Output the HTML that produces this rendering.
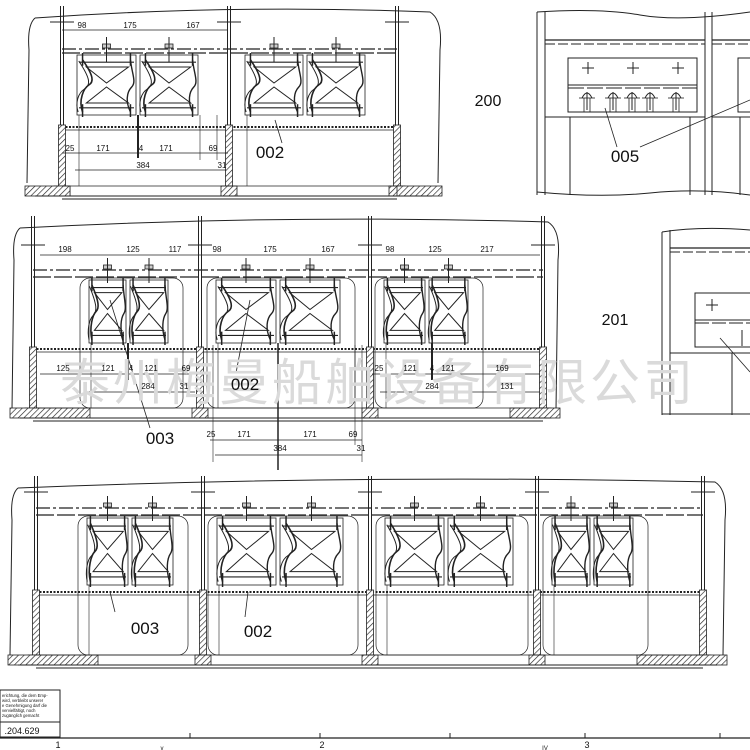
<!DOCTYPE html>
<html><head><meta charset="utf-8"><style>
html,body{margin:0;padding:0;background:#fff;width:750px;height:750px;overflow:hidden}
svg{display:block}
text{font-family:"Liberation Sans",sans-serif;fill:#111}
</style></head><body>
<svg id="s" width="750" height="750" viewBox="0 0 750 750" xmlns="http://www.w3.org/2000/svg">
<defs>
<pattern id="h" width="4" height="4" patternUnits="userSpaceOnUse" patternTransform="rotate(45)">
<rect width="4" height="4" fill="#fff"/><line x1="0" y1="0" x2="0" y2="4" stroke="#222" stroke-width="1.3"/>
</pattern>
</defs>
<g id="g" fill="none" stroke="#222" stroke-width="1"></g>
<text x="60" y="400" font-size="50" style="fill:#dadada;font-family:'Liberation Sans','Noto Sans CJK SC',sans-serif;letter-spacing:3px">泰州梅曼船舶设备有限公司</text>
</svg>
<script>
var g=document.getElementById('g'),S=document.getElementById('s');
function el(t,a,p){var e=document.createElementNS('http://www.w3.org/2000/svg',t);for(var k in a)e.setAttribute(k,a[k]);(p||g).appendChild(e);return e;}
function L(x1,y1,x2,y2,w,d){var a={x1:x1,y1:y1,x2:x2,y2:y2};if(w)a['stroke-width']=w;if(d)a['stroke-dasharray']=d;el('line',a);}
function R(x,y,w,h,f,sw){el('rect',{x:x,y:y,width:w,height:h,fill:f||'none','stroke-width':sw||1});}
function P(d,sw){el('path',{d:d,'stroke-width':sw||1});}
function T(x,y,s,fs){var t=el('text',{x:x,y:y,'font-size':fs||8,'text-anchor':'middle'},S);t.textContent=s;}
function unit(x1,x2,y1,y2){
 var w=x2-x1,h=y2-y1,cx=(x1+x2)/2,cy=(y1+y2)/2;
 R(x1+2,y1,w-4,h,'none',0.8);
 L(x1+4,y1+h*0.12,x2-4,y1+h*0.12,1.2);L(x1+4,y1+h*0.88,x2-4,y1+h*0.88,1.2);
 P('M'+(x1+w*.18)+','+(y1+h*.2)+' L'+(x2-w*.15)+','+(y1+h*.2)+' L'+cx+','+(cy-2)+' Z',1);
 P('M'+(x1+w*.18)+','+(y2-h*.2)+' L'+(x2-w*.15)+','+(y2-h*.2)+' L'+cx+','+(cy+2)+' Z',1);
 P('M'+(x1+w*.12)+','+(y1+h*.08)+' C'+(x1+w*.3)+','+(y1+h*.35)+' '+(x1+w*.3)+','+(y1+h*.45)+' '+(x1+w*.22)+','+cy+' S'+(x1+w*.05)+','+(y1+h*.75)+' '+(x1+w*.12)+','+(y2-h*.05),1.6);
 P('M'+(x1+w*.06)+','+(y1+h*.1)+' C'+(x1+w*.25)+','+(y1+h*.4)+' '+(x1+w*.25)+','+(y1+h*.5)+' '+(x1+w*.15)+','+(cy+4)+' S'+(x1)+','+(y1+h*.8)+' '+(x1+w*.05)+','+(y2-h*.05),1);
 P('M'+(x2-w*.12)+','+(y1+h*.08)+' C'+(x2-w*.1)+','+(y1+h*.3)+' '+(x2-w*.02)+','+(y1+h*.45)+' '+(x2-w*.1)+','+(cy+2)+' S'+(x2-w*.2)+','+(y1+h*.78)+' '+(x2-w*.12)+','+(y2-h*.05),1.4);
 L(x1+w*.12,y1-2,x1+w*.12,y1+h*.18,1.5);L(x2-w*.12,y1-2,x2-w*.12,y1+h*.18,1.5);
 L(x1+w*.12,y2-h*.18,x1+w*.12,y2+2,1.5);L(x2-w*.12,y2-h*.18,x2-w*.12,y2+2,1.5);
}
function bolt(x,y){R(x-4,y-3,8,4,'#ccc',0.8);L(x,y-10,x,y+15,1);}
function panel(o){
 var x0=o.x0,x1=o.x1,y0=o.y0,y1=o.y1;
 P('M'+(x0+8)+','+(y0+8)+' Q'+((x0+x1)/2)+','+(y0-6)+' '+(x1-10)+','+(y0+2)+' Q'+(x1+3)+','+(y0+10)+' '+(x1)+','+(y0+40)+' L'+(x1-2)+','+(y1-5),1);
 P('M'+(x0+8)+','+(y0+8)+' Q'+(x0)+','+(y0+15)+' '+(x0+2)+','+(y0+40)+' L'+(x0)+','+(y1-5),1);
 var pl=o.posts[0],pr=o.posts[o.posts.length-1];
 L(pl,o.b1,pr,o.b1,1.2,'14 3 3 3');L(pl,o.b2,pr,o.b2,1.2,'18 3');
 L(pl,o.dash,pr,o.dash,2,'2 1.5');L(pl,o.dash+3,pr,o.dash+3,0.8);
 o.posts.forEach(function(p){L(p-1.5,y0-4,p-1.5,o.base,1);L(p+1.5,y0-4,p+1.5,o.base,1);
  R(p-3.5,o.dash-2,7,o.base-o.dash+2,'url(#h)',0.8);R(p-8,o.base,16,10,'url(#h)',0.8);
  L(p-12,o.ax,p+12,o.ax,1);});
 R(x0-2,o.base,o.hl,10,'url(#h)',0.8);R(x1-o.hr+2,o.base,o.hr,10,'url(#h)',0.8);
 L(x0+8,o.base+10,x1-8,o.base+10,1);L(pl,o.base+13,pr,o.base+13,1);
 L(pl,o.base,pr,o.base,0.8);
 o.groups.forEach(function(gr){
  if(o.back)el('rect',{x:gr[0][0]-7,y:o.b2+1,width:gr[gr.length-1][1]-gr[0][0]+20,height:o.base-o.b2-1,rx:10,'stroke-width':0.7});
  gr.forEach(function(u){unit(u[0],u[1],o.uy1,o.uy2);bolt((u[0]+u[1])/2,o.b1-2);});
  L(gr[0][0]+4,o.uy2,gr[0][0]+4,o.base,0.6);
 });
}
panel({x0:27,x1:440,y0:10,y1:188,posts:[62,229,397],b1:49,b2:53,dash:127,base:186,ax:22,hl:45,hr:45,uy1:55,uy2:115,
 groups:[[[75,138],[138,200]],[[243,305],[305,367]]]});
L(62,30,228,30,0.8);L(62,153,228,153,0.8);L(75,170,226,170,0.8);L(138,115,138,158,2);
T(82,28,'98');T(130,28,'175');T(193,28,'167');
T(70,151,'25');T(103,151,'171');T(141,151,'4');T(166,151,'171');T(213,151,'69');T(143,168,'384');T(222,168,'31');
L(217,115,217,160,0.6);L(200,115,200,160,0.6);
T(270,158,'002',17);L(275,120,282,143,0.8);
panel({x0:12,x1:558,y0:220,y1:415,posts:[33,200,370,543],b1:270,b2:277,dash:349,base:408,ax:245,hl:80,hr:50,uy1:280,uy2:343,back:true,
 groups:[[[87,128],[128,170]],[[214,278],[278,342]],[[382,427],[427,470]]]});
L(40,255,540,255,0.8);L(40,374,195,374,0.8);L(85,392,195,392,0.8);L(372,374,540,374,0.8);L(380,392,540,392,0.8);
L(128,343,128,380,2);L(278,343,278,470,1.5);L(432,343,432,380,2);
L(210,440,362,440,0.8);L(215,455,362,455,0.8);L(213,345,213,462,0.6);L(355,345,355,445,0.6);L(362,345,362,462,0.6);
T(65,252,'198');T(133,252,'125');T(175,252,'117');T(217,252,'98');T(270,252,'175');T(328,252,'167');T(390,252,'98');T(435,252,'125');T(487,252,'217');
T(63,371,'125');T(108,371,'121');T(131,371,'4');T(151,371,'121');T(186,371,'69');T(148,389,'284');T(184,389,'31');
T(379,371,'25');T(410,371,'121');T(432,371,'4');T(448,371,'121');T(502,371,'169');T(432,389,'284');T(507,389,'131');
T(211,437,'25');T(244,437,'171');T(310,437,'171');T(353,437,'69');T(280,451,'384');T(361,451,'31');
T(160,444,'003',17);L(110,300,150,428,0.8);T(245,390,'002',17);L(250,300,236,373,0.8);
panel({x0:10,x1:725,y0:480,y1:660,posts:[36,203,370,537,703],b1:508,b2:515,dash:592,base:655,ax:492,hl:90,hr:90,uy1:518,uy2:585,back:true,
 groups:[[[85,130],[130,175]],[[215,278],[278,345]],[[383,446],[446,515]],[[550,592],[592,635]]]});
T(145,634,'003',17);L(110,592,115,612,0.8);T(258,637,'002',17);L(248,592,245,617,0.8);
P('M537,12 Q600,8 640,15 T750,12',1);L(537,12,537,195,1);L(545,12,545,195,1);L(705,12,705,195,1);L(712,12,712,195,1);
P('M537,192 Q600,198 650,193 T750,195',1);
L(545,40,705,40,1.2);L(545,44,705,44,1,'10 3');L(712,40,750,40,1.2);L(712,44,750,44,1,'10 3');
R(568,58,129,54);L(568,85,697,85,1);L(568,88,697,88,1,'16 3');L(545,117,705,117,1);L(712,117,750,117,1);
L(570,117,570,195,1);L(690,117,690,195,1);L(740,117,740,195,1);
R(738,58,20,54);
[588,633,678].forEach(function(x){L(x-6,68,x+6,68,1);L(x,62,x,74,1);});
[587,613,632,650,676].forEach(function(x){P('M'+(x-5)+','+98+' Q'+x+',88 '+(x+5)+',98',0.9);L(x,92,x,110,1);L(x-8,98,x+8,98,0.8);L(x-3,98,x-3,112,0.8);L(x+3,98,x+3,112,0.8);});
T(625,162,'005',17);L(605,108,617,147,0.8);L(640,147,750,100,0.8);
T(488,106,'200',16);
P('M662,232 Q700,226 750,230',1);L(662,232,662,415,1);L(670,230,670,415,1);L(662,414,750,414,1);
L(670,248,750,248,1.2);L(670,252,750,252,1,'10 3');
R(695,293,60,54);L(695,320,750,320,1);L(695,323,750,323,1,'14 3');L(670,353,750,353,1);L(732,353,732,415,1);
L(706,305,718,305,1);L(712,299,712,311,1);L(742,330,742,346,1);L(720,338,750,372,0.8);
T(615,325,'201',16);
R(0,690,60,47,'none',1);L(0,722,60,722,1);
for(var i=0;i<5;i++){var t=el('text',{x:2,y:697+i*5,'font-size':4.2},S);t.textContent=['erichtung, die dem Emp-','wird, verbleibt unserer','e Genehmigung darf die','vervielfältigt, noch','zugänglich gemacht'][i];}
T(22,734,'.204.629',9);
L(0,738,750,738,1.2);[60,190,320,450,585,720].forEach(function(x){L(x,738,x,733,1);});
T(58,748,'1',9);T(322,748,'2',9);T(587,748,'3',9);T(162,750,'v',6);T(545,750,'IV',6);
</script>
</body></html>
